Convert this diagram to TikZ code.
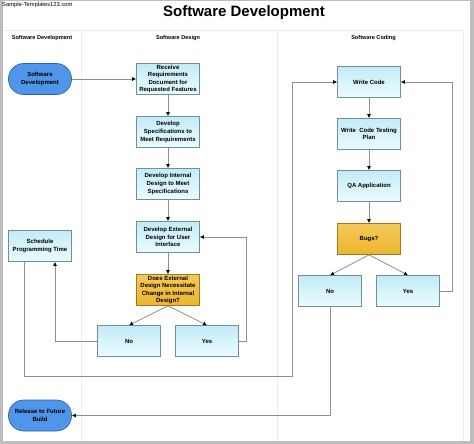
\documentclass[tikz,border=0pt]{standalone}
\usepackage{fontspec}
\setmainfont{Liberation Sans}
\usetikzlibrary{arrows.meta,shadows,calc}
\definecolor{boxtop}{HTML}{C3ECF6}
\definecolor{boxbot}{HTML}{EAFCFF}
\definecolor{boxline}{HTML}{6F8F99}
\definecolor{orgtop}{HTML}{F4C95A}
\definecolor{orgbot}{HTML}{EDB52E}
\definecolor{orgline}{HTML}{9C7A22}
\definecolor{bluefill}{HTML}{4F95EA}
\definecolor{blueline}{HTML}{2F63A8}
\definecolor{connc}{HTML}{8E8E8E}
\definecolor{framec}{HTML}{BDBDBD}
\definecolor{lanec}{HTML}{ECECEC}
\tikzset{
  procbox/.style={draw=boxline, line width=0.6pt, top color=boxtop, bottom color=boxbot,
    minimum width=63pt, minimum height=31pt, align=center,
    font=\fontsize{6}{7.6}\selectfont\bfseries, inner sep=1pt,
    drop shadow={shadow xshift=0.8pt, shadow yshift=-0.8pt, opacity=0.35}},
  decbox/.style={procbox, draw=orgline, top color=orgtop, bottom color=orgbot},
  termbox/.style={draw=blueline, line width=0.6pt, fill=bluefill, rounded corners=15pt,
    minimum width=63pt, minimum height=31pt, align=center,
    font=\fontsize{6}{7.6}\selectfont\bfseries, inner sep=1pt},
  conn/.style={draw=connc, line width=0.8pt, -{Latex[length=4pt,width=4pt,color=black]}},
  lanehead/.style={font=\fontsize{5.6}{6}\selectfont\bfseries},
}
\begin{document}
\begin{tikzpicture}[x=1pt,y=-1pt]
\useasboundingbox (0,0) rectangle (474,444);
% frame
\fill[framec] (0,0) rectangle (474,444);
\fill[white] (3,1.5) rectangle (470,441);
% lanes
\draw[lanec, line width=0.6pt] (3,30) -- (463,30);
\draw[lanec, line width=0.6pt] (81,30) -- (81,441);
\draw[lanec, line width=0.6pt] (277,30) -- (277,441);
\draw[lanec, line width=0.6pt] (463,30) -- (463,441);
% texts
\node[anchor=west, font=\fontsize{5.8}{6}\selectfont, inner sep=0pt] (wm) at (2,5) {Sample-Templates123.com};
\node[font=\fontsize{15}{16}\selectfont\bfseries] (title) at (244,13) {Software Development};
\node[lanehead] (h1) at (42,38) {Software Development};
\node[lanehead] (h2) at (178,38) {Software Design};
\node[lanehead] (h3) at (373.5,38) {Software Coding};
% design lane
\node[termbox] (sd) at (40,79) {Software\\Development};
\node[procbox] (rr) at (168,79) {Receive\\Requirements\\Document for\\Requested Features};
\node[procbox] (ds) at (168,132) {Develop\\Specifications to\\Meet Requirements};
\node[procbox] (di) at (168,184) {Develop Internal\\Design to Meet\\Specifications};
\node[procbox] (de) at (168,237) {Develop External\\Design for User\\Interface};
\node[decbox] (dq) at (168,290) {Does External\\Design Necessitate\\Change in Internal\\Design?};
\node[procbox] (no1) at (129,341) {No};
\node[procbox] (yes1) at (207,341) {Yes};
\node[procbox] (sch) at (40,246) {Schedule\\Programming Time};
\node[termbox] (rel) at (40,415.5) {Release to Future\\Build};
% coding lane
\node[procbox] (wc) at (369,82) {Write Code};
\node[procbox] (tp) at (369,134) {Write\ \ Code Testing\\Plan};
\node[procbox] (qa) at (369,186) {QA Application};
\node[decbox] (bug) at (369,239) {Bugs?};
\node[procbox] (no2) at (330,291) {No};
\node[procbox] (yes2) at (408,291) {Yes};
% coordinates
\coordinate (c1) at (24,376);
\coordinate (c2) at (292,376);
% connectors
\draw[conn] (sd) -- (rr);
\draw[conn] (rr) -- (ds);
\draw[conn] (ds) -- (di);
\draw[conn] (di) -- (de);
\draw[conn] (de) -- (dq);
\draw[conn] (dq.south) -- (no1.north);
\draw[conn] (dq.south) -- (yes1.north);
\draw[conn] (no1.west) -| ([xshift=15pt]sch.south);
\draw[conn] (yes1.east) -- ++(8,0) |- (de.east);
\draw[conn] ([xshift=-16pt]sch.south) -- (c1) -- (c2) |- (wc.west);
\draw[conn] (wc) -- (tp);
\draw[conn] (tp) -- (qa);
\draw[conn] (qa) -- (bug);
\draw[conn] (bug.south) -- (no2.north);
\draw[conn] (bug.south) -- (yes2.north);
\draw[conn] (yes2.east) -- ++(13,0) |- (wc.east);
\draw[conn] (no2.south) |- (rel.east);
\end{tikzpicture}
\end{document}
